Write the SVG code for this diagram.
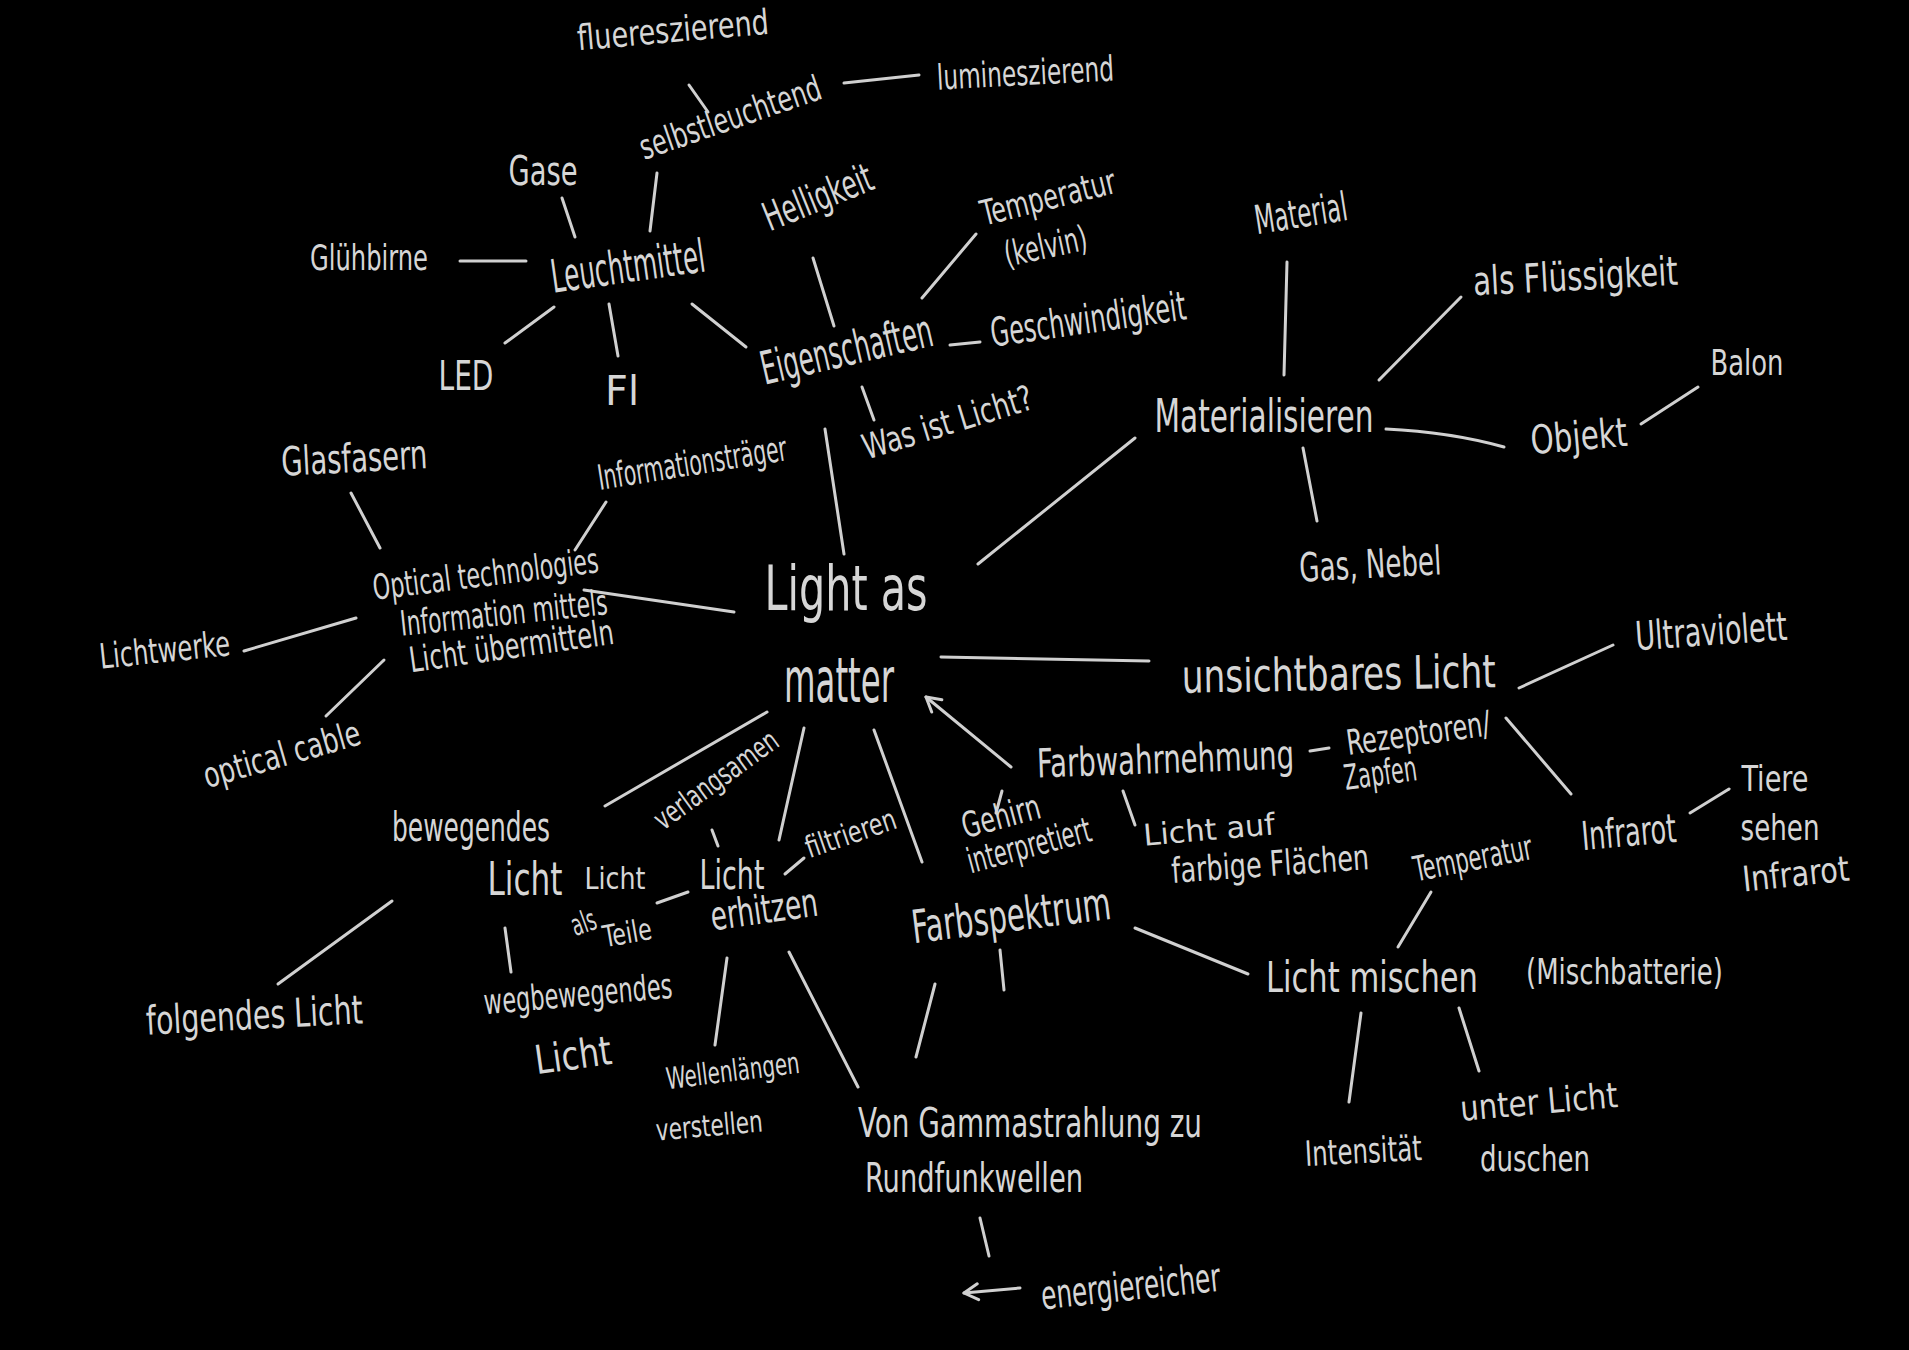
<svg xmlns="http://www.w3.org/2000/svg" width="1909" height="1350" viewBox="0 0 1909 1350">
<style>
text{font-family:"Liberation Sans Narrow","DejaVu Sans Condensed","Liberation Sans",sans-serif;fill:#d6d6d6;text-anchor:middle;font-weight:normal}
.xl{font-size:62px}
.l{font-size:46px}
.m{font-size:40px}
.s{font-size:35px}
.xs{font-size:30px}
#connectors line,#connectors path{stroke:#d0d0d0;stroke-width:3;stroke-linecap:round;fill:none}
</style>
<defs>
<marker id="arr" viewBox="0 0 20 20" refX="17" refY="10" markerWidth="20" markerHeight="20" markerUnits="userSpaceOnUse" orient="auto">
<path d="M3,2 L17,10 L3,18" fill="none" stroke="#d0d0d0" stroke-width="3" stroke-linecap="round" stroke-linejoin="round"/>
</marker>
</defs>
<rect width="1909" height="1350" fill="#000"/>
<g id="connectors">
<line x1="689" y1="85" x2="708" y2="112"/>
<line x1="844" y1="83" x2="919" y2="75"/>
<line x1="657" y1="173" x2="650" y2="231"/>
<line x1="562" y1="198" x2="575" y2="237"/>
<line x1="460" y1="261" x2="526" y2="261"/>
<line x1="505" y1="343" x2="554" y2="307"/>
<line x1="609" y1="304" x2="618" y2="356"/>
<line x1="692" y1="304" x2="746" y2="347"/>
<line x1="813" y1="258" x2="834" y2="326"/>
<line x1="976" y1="234" x2="922" y2="298"/>
<line x1="950" y1="345" x2="980" y2="342"/>
<line x1="862" y1="387" x2="874" y2="420"/>
<line x1="825" y1="429" x2="844" y2="554"/>
<line x1="1287" y1="262" x2="1284" y2="375"/>
<line x1="1379" y1="380" x2="1461" y2="297"/>
<path d="M1386,429 Q1450,432 1504,447"/>
<line x1="1641" y1="424" x2="1698" y2="387"/>
<line x1="1303" y1="448" x2="1317" y2="521"/>
<line x1="978" y1="564" x2="1135" y2="438"/>
<line x1="351" y1="493" x2="380" y2="548"/>
<line x1="606" y1="502" x2="575" y2="550"/>
<line x1="584" y1="590" x2="734" y2="612"/>
<line x1="244" y1="651" x2="356" y2="618"/>
<line x1="326" y1="716" x2="384" y2="660"/>
<line x1="941" y1="657" x2="1149" y2="661"/>
<line x1="1519" y1="688" x2="1613" y2="645"/>
<line x1="1506" y1="718" x2="1571" y2="794"/>
<line x1="1690" y1="813" x2="1729" y2="789"/>
<line x1="1310" y1="751" x2="1329" y2="748"/>
<line x1="1011" y1="767" x2="926" y2="697" marker-end="url(#arr)"/>
<line x1="1002" y1="791" x2="996" y2="813"/>
<line x1="1123" y1="791" x2="1135" y2="825"/>
<line x1="767" y1="712" x2="605" y2="806"/>
<line x1="804" y1="728" x2="779" y2="840"/>
<line x1="874" y1="730" x2="922" y2="862"/>
<line x1="712" y1="830" x2="718" y2="846"/>
<line x1="804" y1="858" x2="785" y2="874"/>
<line x1="657" y1="903" x2="688" y2="892"/>
<line x1="392" y1="901" x2="278" y2="984"/>
<line x1="505" y1="928" x2="511" y2="972"/>
<line x1="727" y1="958" x2="715" y2="1045"/>
<line x1="789" y1="952" x2="858" y2="1087"/>
<line x1="935" y1="984" x2="916" y2="1057"/>
<line x1="1000" y1="950" x2="1004" y2="990"/>
<line x1="1135" y1="928" x2="1248" y2="974"/>
<line x1="1431" y1="892" x2="1398" y2="947"/>
<line x1="1361" y1="1013" x2="1349" y2="1102"/>
<line x1="1459" y1="1008" x2="1479" y2="1071"/>
<line x1="980" y1="1218" x2="989" y2="1256"/>
<line x1="1020" y1="1288" x2="964" y2="1293" marker-end="url(#arr)"/>
</g>
<g id="n-fluoreszierend"><text class="s" x="674" y="42" textLength="192" lengthAdjust="spacingAndGlyphs" transform="rotate(-5 674 42)">fluereszierend</text></g>
<g id="n-selbstleuchtend"><text class="s" x="734" y="129" textLength="190" lengthAdjust="spacingAndGlyphs" transform="rotate(-19 734 129)">selbstleuchtend</text></g>
<g id="n-lumineszierend"><text class="s" x="1026" y="85" textLength="177" lengthAdjust="spacingAndGlyphs" transform="rotate(-3 1026 85)">lumineszierend</text></g>
<g id="n-gase"><text class="m" x="543" y="185" textLength="69" lengthAdjust="spacingAndGlyphs">Gase</text></g>
<g id="n-gluehbirne"><text class="s" x="369" y="270" textLength="118" lengthAdjust="spacingAndGlyphs">Glühbirne</text></g>
<g id="n-leuchtmittel"><text class="l" x="630" y="282" textLength="155" lengthAdjust="spacingAndGlyphs" transform="rotate(-8 630 282)">Leuchtmittel</text></g>
<g id="n-led"><text class="m" x="466" y="390" textLength="55" lengthAdjust="spacingAndGlyphs">LED</text></g>
<g id="n-fl"><text class="m" x="622" y="405" textLength="34" lengthAdjust="spacingAndGlyphs">Fl</text></g>
<g id="n-helligkeit"><text class="m" x="823" y="210" textLength="115" lengthAdjust="spacingAndGlyphs" transform="rotate(-22 823 210)">Helligkeit</text></g>
<g id="n-temperatur-kelvin">
<text class="s" x="1051" y="209" textLength="138" lengthAdjust="spacingAndGlyphs" transform="rotate(-14 1051 209)">Temperatur</text>
<text class="s" x="1048" y="258" textLength="84" lengthAdjust="spacingAndGlyphs" transform="rotate(-12 1048 258)">(kelvin)</text>
</g>
<g id="n-eigenschaften"><text class="l" x="850" y="365" textLength="175" lengthAdjust="spacingAndGlyphs" transform="rotate(-13 850 365)">Eigenschaften</text></g>
<g id="n-geschwindigkeit"><text class="m" x="1090" y="333" textLength="197" lengthAdjust="spacingAndGlyphs" transform="rotate(-8 1090 333)">Geschwindigkeit</text></g>
<g id="n-was-ist-licht"><text class="s" x="951" y="434" textLength="176" lengthAdjust="spacingAndGlyphs" transform="rotate(-17 951 434)">Was ist Licht?</text></g>
<g id="n-material"><text class="m" x="1303" y="227" textLength="93" lengthAdjust="spacingAndGlyphs" transform="rotate(-9 1303 227)">Material</text></g>
<g id="n-materialisieren"><text class="l" x="1264" y="432" textLength="219" lengthAdjust="spacingAndGlyphs">Materialisieren</text></g>
<g id="n-fluessigkeit"><text class="m" x="1576" y="290" textLength="205" lengthAdjust="spacingAndGlyphs" transform="rotate(-3 1576 290)">als Flüssigkeit</text></g>
<g id="n-balon"><text class="s" x="1747" y="375" textLength="73" lengthAdjust="spacingAndGlyphs">Balon</text></g>
<g id="n-objekt"><text class="m" x="1580" y="450" textLength="97" lengthAdjust="spacingAndGlyphs" transform="rotate(-5 1580 450)">Objekt</text></g>
<g id="n-gas-nebel"><text class="m" x="1371" y="578" textLength="142" lengthAdjust="spacingAndGlyphs" transform="rotate(-3 1371 578)">Gas, Nebel</text></g>
<g id="n-glasfasern"><text class="m" x="355" y="472" textLength="146" lengthAdjust="spacingAndGlyphs" transform="rotate(-3 355 472)">Glasfasern</text></g>
<g id="n-informationstraeger"><text class="s" x="694" y="475" textLength="191" lengthAdjust="spacingAndGlyphs" transform="rotate(-9 694 475)">Informationsträger</text></g>
<g id="n-optical-technologies">
<text class="s" x="487" y="586" textLength="227" lengthAdjust="spacingAndGlyphs" transform="rotate(-7 487 586)">Optical technologies</text>
<text class="s" x="505" y="625" textLength="208" lengthAdjust="spacingAndGlyphs" transform="rotate(-6 505 625)">Information mittels</text>
<text class="s" x="513" y="658" textLength="206" lengthAdjust="spacingAndGlyphs" transform="rotate(-8 513 658)">Licht übermitteln</text>
</g>
<g id="n-lichtwerke"><text class="s" x="166" y="662" textLength="131" lengthAdjust="spacingAndGlyphs" transform="rotate(-6 166 662)">Lichtwerke</text></g>
<g id="n-optical-cable"><text class="s" x="285" y="766" textLength="162" lengthAdjust="spacingAndGlyphs" transform="rotate(-16 285 766)">optical cable</text></g>
<g id="n-light-as-matter">
<text class="xl" x="846" y="610" textLength="163" lengthAdjust="spacingAndGlyphs">Light as</text>
<text class="xl" x="839" y="702" textLength="110" lengthAdjust="spacingAndGlyphs">matter</text>
</g>
<g id="n-unsichtbares-licht"><text class="l" x="1339" y="690" textLength="314" lengthAdjust="spacingAndGlyphs" transform="rotate(-1 1339 690)">unsichtbares Licht</text></g>
<g id="n-ultraviolett"><text class="m" x="1712" y="645" textLength="152" lengthAdjust="spacingAndGlyphs" transform="rotate(-4 1712 645)">Ultraviolett</text></g>
<g id="n-farbwahrnehmung"><text class="m" x="1166" y="773" textLength="257" lengthAdjust="spacingAndGlyphs" transform="rotate(-2 1166 773)">Farbwahrnehmung</text></g>
<g id="n-rezeptoren">
<text class="s" x="1420" y="745" textLength="145" lengthAdjust="spacingAndGlyphs" transform="rotate(-8 1420 745)">Rezeptoren/</text>
<text class="s" x="1382" y="785" textLength="73" lengthAdjust="spacingAndGlyphs" transform="rotate(-8 1382 785)">Zapfen</text>
</g>
<g id="n-infrarot"><text class="m" x="1630" y="846" textLength="95" lengthAdjust="spacingAndGlyphs" transform="rotate(-5 1630 846)">Infrarot</text></g>
<g id="n-tiere">
<text class="s" x="1775" y="791" textLength="67" lengthAdjust="spacingAndGlyphs">Tiere</text>
<text class="s" x="1780" y="840" textLength="79" lengthAdjust="spacingAndGlyphs">sehen</text>
<text class="s" x="1797" y="886" textLength="107" lengthAdjust="spacingAndGlyphs" transform="rotate(-6 1797 886)">Infrarot</text>
</g>
<g id="n-bewegendes-licht">
<text class="m" x="471" y="841" textLength="158" lengthAdjust="spacingAndGlyphs">bewegendes</text>
<text class="l" x="525" y="895" textLength="75" lengthAdjust="spacingAndGlyphs">Licht</text>
</g>
<g id="n-licht-als-teile">
<text class="xs" x="615" y="889" textLength="61" lengthAdjust="spacingAndGlyphs">Licht</text>
<text class="xs" x="587" y="932" textLength="25" lengthAdjust="spacingAndGlyphs" transform="rotate(-20 587 932)">als</text>
<text class="xs" x="629" y="943" textLength="49" lengthAdjust="spacingAndGlyphs" transform="rotate(-10 629 943)">Teile</text>
</g>
<g id="n-verlangsamen"><text class="xs" x="722" y="788" textLength="146" lengthAdjust="spacingAndGlyphs" transform="rotate(-36 722 788)">verlangsamen</text></g>
<g id="n-licht-erhitzen">
<text class="m" x="732" y="889" textLength="65" lengthAdjust="spacingAndGlyphs">Licht</text>
<text class="m" x="766" y="923" textLength="108" lengthAdjust="spacingAndGlyphs" transform="rotate(-8 766 923)">erhitzen</text>
</g>
<g id="n-filtrieren"><text class="xs" x="854" y="843" textLength="94" lengthAdjust="spacingAndGlyphs" transform="rotate(-19 854 843)">filtrieren</text></g>
<g id="n-gehirn">
<text class="s" x="1004" y="828" textLength="80" lengthAdjust="spacingAndGlyphs" transform="rotate(-15 1004 828)">Gehirn</text>
<text class="s" x="1032" y="857" textLength="127" lengthAdjust="spacingAndGlyphs" transform="rotate(-15 1032 857)">interpretiert</text>
</g>
<g id="n-licht-auf">
<text class="xs" x="1210" y="840" textLength="132" lengthAdjust="spacingAndGlyphs" transform="rotate(-5 1210 840)">Licht auf</text>
<text class="s" x="1271" y="876" textLength="198" lengthAdjust="spacingAndGlyphs" transform="rotate(-4 1271 876)">farbige Flächen</text>
</g>
<g id="n-farbspektrum"><text class="l" x="1013" y="931" textLength="200" lengthAdjust="spacingAndGlyphs" transform="rotate(-7 1013 931)">Farbspektrum</text></g>
<g id="n-temperatur"><text class="s" x="1475" y="870" textLength="120" lengthAdjust="spacingAndGlyphs" transform="rotate(-11 1475 870)">Temperatur</text></g>
<g id="n-licht-mischen">
<text x="1372" y="992" font-size="42" textLength="212" lengthAdjust="spacingAndGlyphs">Licht mischen</text>
<text x="1526" y="984" font-size="36" style="text-anchor:start" textLength="197" lengthAdjust="spacingAndGlyphs">(Mischbatterie)</text>
</g>
<g id="n-folgendes-licht"><text class="m" x="255" y="1029" textLength="217" lengthAdjust="spacingAndGlyphs" transform="rotate(-3 255 1029)">folgendes Licht</text></g>
<g id="n-wegbewegendes-licht">
<text class="s" x="579" y="1006" textLength="189" lengthAdjust="spacingAndGlyphs" transform="rotate(-5 579 1006)">wegbewegendes</text>
<text class="m" x="575" y="1069" textLength="77" lengthAdjust="spacingAndGlyphs" transform="rotate(-8 575 1069)">Licht</text>
</g>
<g id="n-wellenlaengen">
<text class="xs" x="734" y="1081" textLength="134" lengthAdjust="spacingAndGlyphs" transform="rotate(-7 734 1081)">Wellenlängen</text>
<text class="xs" x="710" y="1136" textLength="107" lengthAdjust="spacingAndGlyphs" transform="rotate(-5 710 1136)">verstellen</text>
</g>
<g id="n-gammastrahlung">
<text class="m" x="1030" y="1137" textLength="344" lengthAdjust="spacingAndGlyphs">Von Gammastrahlung zu</text>
<text class="m" x="974" y="1192" textLength="218" lengthAdjust="spacingAndGlyphs">Rundfunkwellen</text>
</g>
<g id="n-energiereicher"><text class="m" x="1132" y="1300" textLength="180" lengthAdjust="spacingAndGlyphs" transform="rotate(-6 1132 1300)">energiereicher</text></g>
<g id="n-intensitaet"><text class="s" x="1364" y="1163" textLength="117" lengthAdjust="spacingAndGlyphs" transform="rotate(-3 1364 1163)">Intensität</text></g>
<g id="n-unter-licht-duschen">
<text class="s" x="1540" y="1114" textLength="158" lengthAdjust="spacingAndGlyphs" transform="rotate(-5 1540 1114)">unter Licht</text>
<text class="s" x="1535" y="1171" textLength="110" lengthAdjust="spacingAndGlyphs">duschen</text>
</g>
</svg>
